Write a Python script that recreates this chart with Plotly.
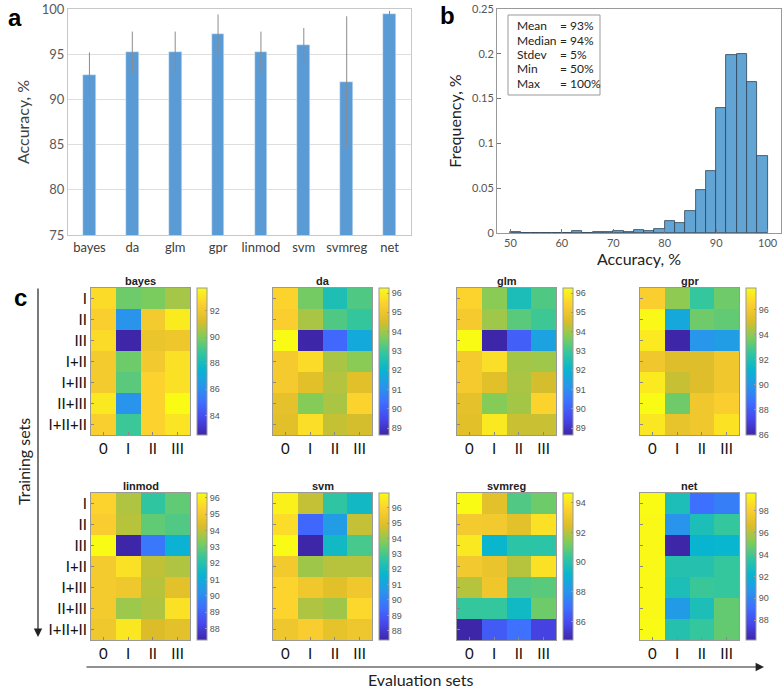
import plotly.graph_objects as go

W, H = 784, 688

# panel a: mean accuracy per model
models = ["bayes", "da", "glm", "gpr", "linmod", "svm", "svmreg", "net"]
mean_acc = [92.7, 95.2, 95.2, 97.2, 95.2, 96.0, 91.9, 99.4]
std_acc = [2.5, 2.3, 2.3, 2.2, 2.3, 1.9, 7.3, 0.4]

# panel b: histogram of all accuracies (bins of 2%)
bin_left = list(range(50, 100, 2))
bin_freq = [0.001, 0, 0, 0, 0, 0, 0.002, 0, 0.001, 0.001, 0.002, 0.001, 0.0035,
            0.002, 0.0045, 0.0138, 0.0112, 0.0246, 0.0484, 0.0692, 0.14, 0.199,
            0.2, 0.169, 0.0863]
stat_names = ["Mean", "Median", "Stdev", "Min", "Max"]
stat_vals = ["= 93%", "= 94%", "= 5%", "= 50%", "= 100%"]

# panel c: accuracy per training / evaluation set
train_sets = ["I", "II", "III", "I+II", "I+III", "II+III", "I+II+II"]
eval_sets = ["0", "I", "II", "III"]

bayes = [[92.85, 89.7, 89.9, 90.5],
         [92.4, 86.2, 92.2, 93.3],
         [92.85, 82.5, 91.8, 91.95],
         [92.2, 89.7, 92.1, 93.0],
         [92.2, 89.4, 92.6, 93.0],
         [93.2, 86.2, 92.6, 93.75],
         [92.4, 88.9, 92.6, 93.1]]
da = [[95.5, 93.6, 92.5, 93.2],
      [95.35, 94.1, 93.2, 92.9],
      [96.26, 88.65, 90.2, 91.7],
      [95.2, 95.65, 94.1, 93.8],
      [95.2, 94.7, 94.2, 94.7],
      [94.8, 93.75, 94.1, 95.5],
      [94.7, 95.7, 94.35, 94.5]]
glm = [[95.5, 93.8, 92.45, 93.2],
       [95.2, 94.0, 93.3, 93.0],
       [96.26, 88.65, 90.0, 91.5],
       [95.2, 95.7, 94.05, 94.0],
       [95.2, 94.7, 94.1, 94.5],
       [94.8, 93.75, 94.05, 95.5],
       [94.7, 95.9, 94.4, 94.4]]
gpr = [[96.3, 94.0, 92.55, 93.5],
       [97.6, 90.7, 93.5, 93.3],
       [97.2, 86.0, 89.9, 90.2],
       [95.9, 95.2, 95.2, 95.9],
       [97.2, 94.8, 95.2, 95.9],
       [97.7, 93.5, 95.9, 96.3],
       [97.1, 95.6, 95.9, 97.0]]
linmod = [[95.4, 93.8, 92.25, 92.9],
          [95.2, 93.9, 92.9, 92.7],
          [96.3, 87.3, 89.5, 91.2],
          [95.05, 95.7, 94.0, 93.8],
          [95.05, 94.9, 93.9, 94.5],
          [95.05, 93.6, 93.8, 95.7],
          [94.9, 95.85, 94.3, 94.5]]
svm = [[96.7, 94.55, 92.65, 91.9],
       [96.2, 89.3, 90.8, 94.55],
       [96.95, 87.4, 91.9, 93.0],
       [95.6, 94.1, 94.4, 94.4],
       [96.0, 95.5, 95.0, 95.5],
       [96.0, 94.3, 94.1, 96.1],
       [95.4, 95.8, 95.2, 95.4]]
svmreg = [[94.66, 92.7, 90.7, 91.1],
          [93.3, 93.2, 92.7, 94.0],
          [94.2, 89.2, 90.1, 90.1],
          [93.2, 92.9, 92.0, 94.0],
          [92.0, 93.1, 90.7, 90.8],
          [90.3, 90.3, 89.4, 91.1],
          [84.75, 86.4, 87.0, 85.7]]
net = [[99.6, 92.9, 89.2, 89.7],
       [99.5, 90.6, 92.9, 93.7],
       [99.5, 86.2, 92.1, 92.2],
       [99.5, 93.2, 93.2, 93.7],
       [99.5, 92.9, 93.8, 93.7],
       [99.5, 90.9, 92.9, 94.6],
       [99.6, 93.2, 93.7, 94.6]]

heat_names = ["bayes", "da", "glm", "gpr", "linmod", "svm", "svmreg", "net"]
heat_data = [bayes, da, glm, gpr, linmod, svm, svmreg, net]
cbar_dtick = [2, 1, 1, 2, 1, 1, 2, 2]

parula = [
    [0 / 9, "rgb(62,38,168)"],
    [1 / 9, "rgb(71,71,235)"],
    [2 / 9, "rgb(62,111,255)"],
    [3 / 9, "rgb(39,150,235)"],
    [4 / 9, "rgb(8,181,208)"],
    [5 / 9, "rgb(49,198,159)"],
    [6 / 9, "rgb(129,204,89)"],
    [7 / 9, "rgb(220,189,41)"],
    [8 / 9, "rgb(252,207,48)"],
    [9 / 9, "rgb(249,251,21)"],
]


def px(x):
    return x / W


def py(y):
    return 1 - y / H


def label(text, x, y, size, **kw):
    # paper-anchored text, centred on (x, y) given in pixels
    d = dict(text=text, x=px(x), y=py(y), xref="paper", yref="paper", showarrow=False,
             xanchor="center", yanchor="middle", font=dict(size=size, color="#222"))
    d.update(kw)
    return d


FONT = "Lato"
fig = go.Figure()

# ---- panel a
fig.add_trace(go.Bar(
    x=models, y=mean_acc, width=0.3, marker_color="#5b9bd5",
    error_y=dict(type="data", array=std_acc, color="#8c8c8c", thickness=1, width=0),
    xaxis="x", yaxis="y"))

# ---- panel b
fig.add_trace(go.Bar(
    x=[b + 1 for b in bin_left], y=bin_freq, width=2,
    marker=dict(color="rgb(98,165,213)", line=dict(color="rgb(45,65,85)", width=0.8)),
    xaxis="x2", yaxis="y2"))

layout = dict(
    width=W, height=H, margin=dict(l=0, r=0, t=0, b=0, autoexpand=False),
    plot_bgcolor="white", paper_bgcolor="white", showlegend=False,
    font=dict(family=FONT, color="#222"),
    bargap=0,
    xaxis=dict(domain=[px(68), px(411)], anchor="y", type="category",
               showline=True, mirror=True, linecolor="#c8c8c8", ticks="",
               tickfont=dict(size=13, color="#404040")),
    yaxis=dict(domain=[py(235), py(9)], anchor="x", range=[75, 100], dtick=5,
               showgrid=True, gridcolor="#dedede", showline=True, mirror=True,
               linecolor="#c8c8c8", tickfont=dict(size=13, color="#595959"),
               title=dict(text="Accuracy, %", font=dict(size=16, color="#404040"), standoff=8)),
    xaxis2=dict(domain=[px(497), px(781)], anchor="y2", range=[47.4, 102.6],
                tickvals=[50, 60, 70, 80, 90, 100], ticks="inside", ticklen=4,
                tickcolor="#777", showline=True, mirror=True, linecolor="#999",
                showgrid=False, zeroline=False, tickfont=dict(size=11, color="#555"),
                title=dict(text="Accuracy, %", font=dict(size=16, color="#222"), standoff=2)),
    yaxis2=dict(domain=[py(233), py(9)], anchor="x2", range=[0, 0.25], dtick=0.05,
                ticks="inside", ticklen=4, tickcolor="#777", showline=True, mirror=True,
                linecolor="#999", showgrid=False, zeroline=False,
                tickfont=dict(size=11, color="#555"),
                title=dict(text="Frequency, %", font=dict(size=16, color="#222"), standoff=6)),
)

col_left = [91, 273, 457, 640]
row_top = [288, 493]
cell_w, cell_h = 99, 147

annotations = []
for i, (name, z) in enumerate(zip(heat_names, heat_data)):
    r, c = divmod(i, 4)
    k = i + 3
    x0, y0 = col_left[c], row_top[r]
    x1, y1 = x0 + cell_w, y0 + cell_h
    fig.add_trace(go.Heatmap(
        z=z, x=eval_sets, y=train_sets, colorscale=parula,
        xaxis=f"x{k}", yaxis=f"y{k}",
        colorbar=dict(x=px(x1 + 7), xanchor="left", y=(py(y0) + py(y1)) / 2,
                      yanchor="middle", len=py(y0) - py(y1), lenmode="fraction",
                      thickness=10, thicknessmode="pixels", outlinewidth=1,
                      outlinecolor="#999", xpad=0, ypad=0, dtick=cbar_dtick[i],
                      ticks="inside", ticklen=2, tickcolor="#999",
                      tickfont=dict(size=9, color="#555", family="Liberation Sans"))))
    layout[f"xaxis{k}"] = dict(domain=[px(x0), px(x1)], anchor=f"y{k}", type="category",
                               showline=True, mirror=True, linecolor="#999",
                               ticks="inside", ticklen=3, tickcolor="#888",
                               tickfont=dict(size=15, color="#111"), showgrid=False)
    layout[f"yaxis{k}"] = dict(domain=[py(y1), py(y0)], anchor=f"x{k}", type="category",
                               autorange="reversed", showline=True, mirror=True,
                               linecolor="#999", ticks="inside", ticklen=3,
                               tickcolor="#888", showticklabels=(c == 0),
                               tickfont=dict(size=15, color="#111"), showgrid=False)
    annotations.append(label(f"<b>{name}</b>", (x0 + x1) / 2, y0 - 7, 11,
                             font=dict(size=11, family="Liberation Sans", color="#222")))

# panel letters
for letter, lx, ly in [("a", 15, 17), ("b", 447, 15), ("c", 20, 297)]:
    annotations.append(label(f"<b>{letter}</b>", lx, ly, 24,
                             font=dict(size=24, family="Liberation Sans", color="#000")))

# stats box in panel b, one line each
for j, (sn, sv) in enumerate(zip(stat_names, stat_vals)):
    ly = 26 + 14.3 * j
    annotations.append(label(sn, 515, ly, 12, xanchor="left"))
    annotations.append(label(sv, 558, ly, 12, xanchor="left"))

# arrows for panel c
annotations.append(dict(x=px(38), y=py(637), xref="paper", yref="paper", text="",
                        showarrow=True, ax=0, ay=-350, arrowhead=2, arrowsize=1.4,
                        arrowwidth=1.2, arrowcolor="#222"))
annotations.append(dict(x=px(764), y=py(667), xref="paper", yref="paper", text="",
                        showarrow=True, ax=-679, ay=0, arrowhead=2, arrowsize=1.4,
                        arrowwidth=1.2, arrowcolor="#222"))
annotations.append(label("Training sets", 23, 462, 16, textangle=-90))
annotations.append(label("Evaluation sets", 420, 679, 16))

layout["annotations"] = annotations
layout["shapes"] = [dict(type="rect", xref="paper", yref="paper",
                         x0=px(508), x1=px(600), y0=py(95), y1=py(15),
                         line=dict(color="#999", width=1), fillcolor="white", layer="above")]
fig.update_layout(**layout)

# pin the 784x688 figure to the window's top-left corner, no page margin or scrollbars
pin_js = (
    "document.documentElement.style.overflow='hidden';"
    "document.body.style.margin='0px';"
    "document.body.style.overflow='hidden';"
    "var gd=document.getElementsByClassName('plotly-graph-div')[0];"
    "gd.style.position='absolute';gd.style.left='0px';gd.style.top='0px';"
)
fig.write_html("out.html", config={"displayModeBar": False}, post_script=pin_js)
